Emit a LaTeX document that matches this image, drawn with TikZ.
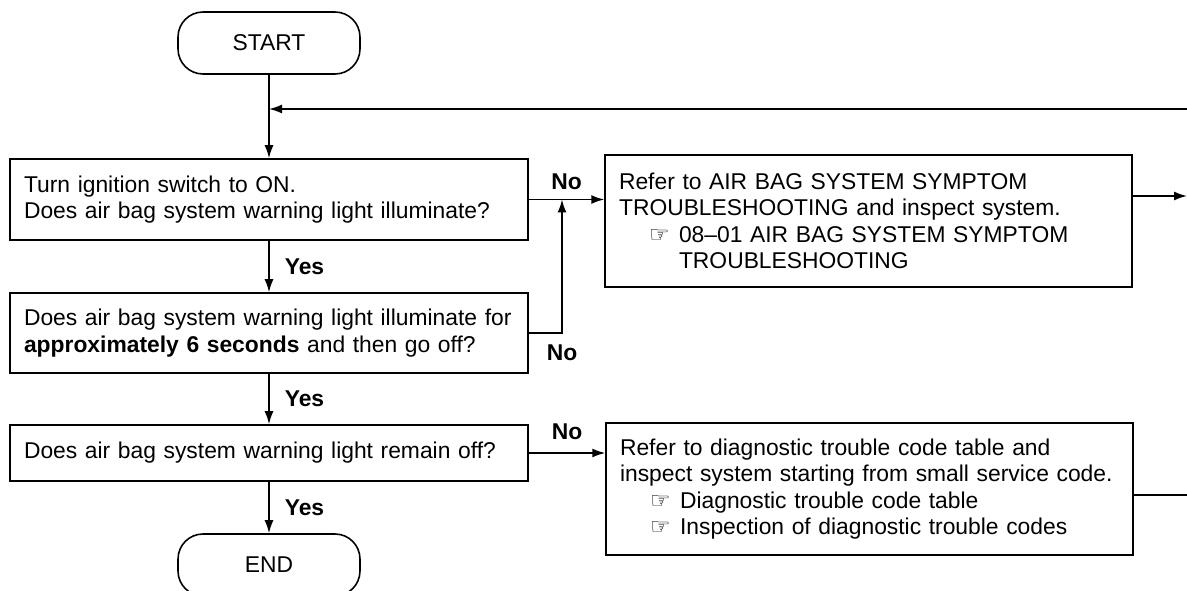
\documentclass[tikz,border=0pt]{standalone}
\usepackage{fontspec}
\setmainfont{Liberation Sans}
\newfontfamily\handfont{DejaVu Sans}
\usepackage{tikz}
\usetikzlibrary{arrows.meta,positioning,calc}
\newcommand{\refhand}{\hspace*{0.6cm}\makebox[0.6cm][l]{\handfont ☞}}

\begin{document}
\begin{tikzpicture}[x=0.02cm, y=-0.02cm,
      font=\fontsize{13}{15.1}\selectfont,
      bx/.style={draw, line width=0.9pt, inner xsep=0.04cm, inner ysep=0pt,
                 align=left, minimum height=1.6cm,
                 execute at begin node={\leftskip=0.24cm}},
      qbx/.style={bx, text width=10.28cm},
      rbx/.style={bx, text width=10.46cm, minimum height=2.64cm},
      term/.style={draw, line width=0.9pt, rounded corners=0.5cm,
                   minimum width=3.64cm, minimum height=1.24cm},
      arr/.style={-{Latex[length=2.6mm,width=1.8mm]}, line width=0.9pt},
      lbl/.style={font=\fontsize{13}{15.1}\selectfont\bfseries, inner sep=0pt}
    ]
      \useasboundingbox (0,0) rectangle (1187,591);
      % Main column
      \node[term] (start) at (269,43) {START};
      \node[qbx, minimum height=1.62cm] (ign) at (269,199.5)
        {Turn ignition switch to ON.\\Does air bag system warning light illuminate?};
      \node[qbx] (six) at (269,333)
        {Does air bag system warning light illuminate for\\\textbf{approximately 6 seconds} and then go off?};
      \node[qbx, minimum height=1.12cm] (off) at (269,453)
        {Does air bag system warning light remain off?};
      \node[term] (end) at (269,565) {END};
      % Right column
      \node[rbx] (symp) at (868.5,221)
        {Refer to AIR BAG SYSTEM SYMPTOM\\
         TROUBLESHOOTING and inspect system.\\
         \refhand 08–01 AIR BAG SYSTEM SYMPTOM\\
         \hspace*{1.2cm}TROUBLESHOOTING};
      \node[rbx] (dtc) at (869.5,489)
        {Refer to diagnostic trouble code table and\\
         inspect system starting from small service code.\\
         \refhand Diagnostic trouble code table\\
         \refhand Inspection of diagnostic trouble codes};
      % Free ends
      \coordinate (fb) at (1187,109);
      \coordinate (jn) at (562,199.5);
      \coordinate (out1) at (1187,196);
      \coordinate (out2) at (1187,495);
      % Arrows
      \draw[arr] (start) -- (ign);
      \draw[arr] (fb) -- (fb -| start);
      \draw[arr] (ign) -- (six) node[lbl, midway, right=0.3cm] {Yes};
      \draw[arr] (six) -- (off) node[lbl, midway, right=0.3cm] {Yes};
      \draw[arr] (off) -- (end) node[lbl, midway, right=0.3cm] {Yes};
      \draw[arr] (ign) -- (ign -| symp.west) node[lbl, midway, above=0.18cm] {No};
      \draw[arr] (six) -| (jn) node[lbl, pos=0.5, below=0.21cm] {No};
      \draw[arr] (off) -- (off -| dtc.west) node[lbl, midway, above=0.25cm] {No};
      \draw[arr] (symp.east |- out1) -- (out1);
      \draw[line width=0.9pt] (dtc.east |- out2) -- (out2);
    \end{tikzpicture}
\end{document}
